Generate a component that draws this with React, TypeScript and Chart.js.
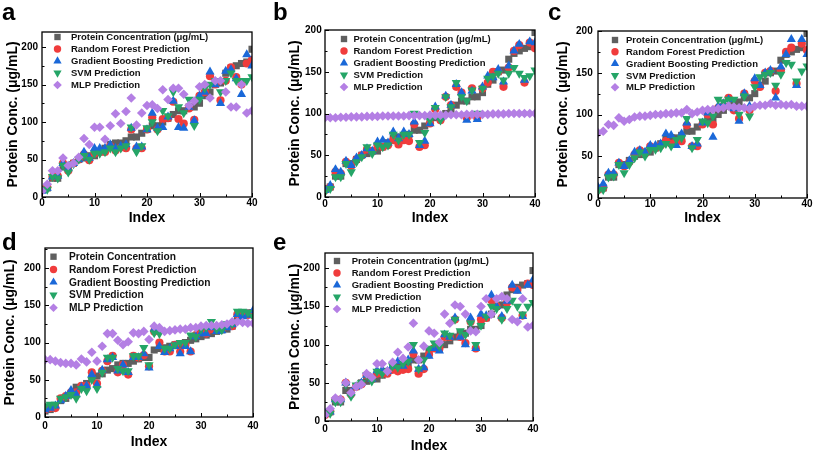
import React, { useEffect, useRef } from "react";
import { Chart, registerables } from "chart.js";
import { drawPoint } from "chart.js/helpers";
Chart.register(...registerables);

const FONT = "'Liberation Sans', Arial, Helvetica, sans-serif";

// ---------- data ----------
const indexValues = [0,1,2,3,4,5,6,7,8,9,10,11,12,13,14,15,16,17,18,19,20,21,22,23,24,25,26,27,28,29,30,31,32,33,34,35,36,37,38,39,40];

const proteinABCE = [10,12,25,25,40,40,45,50,52,55,55,60,65,70,72,72,75,80,80,85,90,95,95,100,105,110,115,115,120,120,125,135,140,150,152,165,172,175,178,180,197];
const proteinD = [8,10,15,22,25,30,40,40,45,52,55,58,63,65,70,72,72,75,78,80,80,90,92,93,95,97,97,100,103,105,108,110,112,115,117,118,122,135,137,140,140];

const rfA = [10,13,27,28,45,35,45,50,57,49,58,60,60,68,62,66,65,90,65,65,90,106,90,104,105,127,104,98,118,103,135,140,161,150,129,155,173,160,150,178,183];
const gbA = [8,12,27,28,45,38,45,50,60,52,65,65,65,70,65,68,70,92,67,67,90,112,92,93,107,128,93,92,120,102,135,140,167,150,125,168,170,158,137,190,175];
const svmA = [10,10,27,25,42,33,44,50,55,50,58,58,60,65,60,65,68,93,60,68,92,100,88,115,108,140,120,112,130,95,130,145,150,155,140,155,165,155,155,155,160];
const mlpA = [8,17,35,35,52,42,45,53,78,70,93,93,77,95,111,98,114,132,96,112,122,123,118,143,130,145,145,137,122,128,147,150,132,155,155,140,120,120,150,112,115];

const rfB = [8,12,30,28,42,37,45,50,57,55,62,60,62,68,63,68,67,87,60,62,88,105,92,120,110,132,125,95,130,95,130,137,150,150,132,155,175,182,137,185,178];
const gbB = [8,14,33,30,43,38,47,50,58,55,66,68,65,78,70,78,75,90,62,67,88,108,95,121,110,135,125,92,127,93,132,145,143,153,138,157,175,183,140,186,185];
const svmB = [6,10,24,24,40,30,42,48,60,52,62,60,62,75,68,75,75,100,65,77,92,107,92,120,108,137,120,115,128,100,130,142,145,148,140,148,155,148,143,145,152];
const mlpB = [95,95,95,95.5,95.5,96,96,96,96.5,96.5,96.5,97,97,97,97,97,97.5,97.5,97.5,97.5,98,98,98,98,98.5,98.5,98.5,99,99,99,99,99,99.5,99.5,99.5,100,100,100,100,100,100];

const rfC = [10,12,28,28,42,38,43,52,57,53,62,60,63,68,65,68,68,87,62,62,88,100,88,108,110,120,105,95,125,105,140,133,150,152,128,153,175,180,137,185,177];
const gbC = [13,17,30,30,42,38,45,55,57,55,63,63,65,77,75,63,77,90,62,65,90,102,73,110,113,118,107,92,125,110,143,135,150,153,120,157,172,190,135,190,172];
const svmC = [8,10,25,26,40,30,40,48,55,50,58,58,60,65,62,70,72,95,60,70,92,90,98,118,115,118,118,100,122,98,133,145,148,150,135,148,162,160,140,152,158];
const mlpC = [78,80,88,87,96,92,94,97,98,98,99,100,100,101,101,102,102,106,101,103,105,106,106,107,108,110,109,108,108,107,110,111,111,113,111,112,111,112,110,110,110];

const rfD = [10,12,12,25,28,33,33,42,42,60,45,62,75,82,60,70,57,82,80,83,68,115,100,88,88,97,88,97,88,110,115,112,118,117,118,122,122,138,137,137,137];
const gbD = [10,12,15,22,28,36,30,40,42,57,43,63,77,80,62,70,60,80,80,85,66,118,95,87,92,95,85,95,88,108,112,112,120,115,116,120,124,138,135,137,143];
const svmD = [15,17,17,25,27,30,25,38,35,50,38,60,80,80,65,62,62,82,82,93,70,113,112,92,92,97,100,100,110,108,118,120,128,118,117,125,125,142,142,140,135];
const mlpD = [77,77,75,73,72,72,70,78,74,87,75,95,112,112,103,97,101,113,112,115,104,122,120,115,116,117,118,118,120,120,122,123,123,123,124,125,128,128,127,126,126];

const rfE = [8,12,28,28,50,35,45,48,60,55,62,62,62,67,65,67,68,88,62,68,87,95,95,110,110,133,110,102,130,95,133,135,158,150,135,155,175,172,138,180,178];
const gbE = [10,12,28,28,50,37,45,50,60,55,66,67,65,72,78,72,80,92,68,70,85,95,92,113,110,135,110,100,135,95,140,138,165,150,137,157,178,170,137,178,185];
const svmE = [8,10,25,25,48,32,47,50,60,52,65,62,65,72,70,75,78,100,68,80,95,102,98,115,112,133,118,113,128,100,125,137,150,147,133,147,158,150,140,150,155];
const mlpE = [8,16,30,28,50,37,45,48,62,57,75,75,65,77,90,82,97,128,80,98,118,115,103,140,128,152,150,140,118,117,150,160,140,160,163,160,133,130,160,123,125];

const seriesLabels = ["Protein Concentration (μg/mL)", "Random Forest Prediction", "Gradient Boosting Prediction", "SVM Prediction", "MLP Prediction"];
const seriesLabelsD = ["Protein Concentration", "Random Forest Prediction", "Gradient Boosting Prediction", "SVM Prediction", "MLP Prediction"];
const xTitle = "Index";
const yTitle = "Protein Conc. (μg/mL)";

// ---------- styles ----------
const seriesStyles = [
  { color: "#5f5f5f", pointStyle: "rect", radius: 5, rotation: 0 },
  { color: "#f03c3c", pointStyle: "circle", radius: 4.1, rotation: 0 },
  { color: "#1a68d8", pointStyle: "triangle", radius: 5.3, rotation: 0 },
  { color: "#25a567", pointStyle: "triangle", radius: 5.3, rotation: 180 },
  { color: "#b47fe4", pointStyle: "rectRot", radius: 4.8, rotation: 0 },
];

type LegendCfg = { mx: number; tx: number; y0: number; rowH: number; size: number };
type PanelCfg = {
  letter: string; letterX: number; letterY: number;
  left: number; top: number; w: number; h: number;
  padTop: number; padRight: number; yw: number; xh: number;
  yTitlePad: number; xTitlePad: number; xTickPad: number; yTickPad: number;
  ymax: number; series: number[][]; labels: string[]; legend: LegendCfg;
};

const framePlugin = {
  id: "frameTicks",
  afterDatasetsDraw(chart: any) {
    const { ctx, chartArea, scales } = chart;
    const { left, right, top, bottom } = chartArea;
    const x = scales.x, y = scales.y;
    ctx.save();
    ctx.strokeStyle = "#000";
    ctx.lineWidth = 1;
    const xt = x.ticks.map((t: any) => t.value);
    for (let i = 0; i < xt.length; i++) {
      const px = Math.round(x.getPixelForValue(xt[i])) + 0.5;
      ctx.beginPath(); ctx.moveTo(px, bottom); ctx.lineTo(px, bottom - 4); ctx.stroke();
      if (i < xt.length - 1) {
        const pm = Math.round(x.getPixelForValue((xt[i] + xt[i + 1]) / 2)) + 0.5;
        ctx.beginPath(); ctx.moveTo(pm, bottom); ctx.lineTo(pm, bottom - 2.5); ctx.stroke();
      }
    }
    const yt = y.ticks.map((t: any) => t.value);
    for (let i = 0; i < yt.length; i++) {
      const py = Math.round(y.getPixelForValue(yt[i])) + 0.5;
      ctx.beginPath(); ctx.moveTo(left, py); ctx.lineTo(left + 4, py); ctx.stroke();
      const mid = yt[i] + 25;
      if (mid < y.max) {
        const pm = Math.round(y.getPixelForValue(mid)) + 0.5;
        ctx.beginPath(); ctx.moveTo(left, pm); ctx.lineTo(left + 2.5, pm); ctx.stroke();
      }
    }
    ctx.lineWidth = 1.3;
    ctx.strokeRect(left, top, right - left, bottom - top);
    ctx.restore();
  },
  afterDraw(chart: any, _args: any, opts: any) {
    const lg: LegendCfg = opts.legend;
    const labels: string[] = opts.labels;
    if (!lg) return;
    const { ctx, chartArea } = chart;
    ctx.save();
    ctx.font = `bold ${lg.size}px ${FONT}`;
    ctx.textBaseline = "middle";
    ctx.textAlign = "left";
    labels.forEach((lab, i) => {
      const st = seriesStyles[i];
      const cy = chartArea.top + lg.y0 + i * lg.rowH;
      const cx = chartArea.left + lg.mx;
      ctx.fillStyle = st.color;
      drawPoint(ctx, { pointStyle: st.pointStyle, radius: st.radius * 0.9, rotation: st.rotation, borderWidth: 0 } as any, cx, cy);
      ctx.fillStyle = "#111";
      ctx.fillText(lab, chartArea.left + lg.tx, cy + 0.5);
    });
    ctx.restore();
  },
};

const panels: PanelCfg[] = [
  { letter: "a", letterX: 2, letterY: 0, left: 0, top: 0, w: 265, h: 228, padTop: 32, padRight: 13, yw: 42, xh: 31,
    yTitlePad: 4.6, xTitlePad: 1.6, xTickPad: 0, yTickPad: 4, ymax: 220,
    series: [proteinABCE, rfA, gbA, svmA, mlpA], labels: seriesLabels,
    legend: { mx: 15.5, tx: 29, y0: 5, rowH: 12, size: 9.5 } },
  { letter: "b", letterX: 273, letterY: 0, left: 280, top: 0, w: 268, h: 228, padTop: 30, padRight: 13, yw: 45, xh: 31,
    yTitlePad: 6.6, xTitlePad: 1.6, xTickPad: 1, yTickPad: 3.3, ymax: 200,
    series: [proteinABCE, rfB, gbB, svmB, mlpB], labels: seriesLabels,
    legend: { mx: 19, tx: 28.5, y0: 9, rowH: 12, size: 9.5 } },
  { letter: "c", letterX: 548, letterY: 0, left: 550, top: 0, w: 263, h: 228, padTop: 31, padRight: 6, yw: 48, xh: 30,
    yTitlePad: 4.6, xTitlePad: 1.6, xTickPad: 0, yTickPad: 5.3, ymax: 200,
    series: [proteinABCE, rfC, gbC, svmC, mlpC], labels: seriesLabels,
    legend: { mx: 17, tx: 28, y0: 9, rowH: 11.8, size: 9.5 } },
  { letter: "d", letterX: 2, letterY: 230, left: 0, top: 228, w: 265, h: 227, padTop: 20, padRight: 12, yw: 45, xh: 38,
    yTitlePad: 1.6, xTitlePad: 4.9, xTickPad: 3.7, yTickPad: 4.3, ymax: 227,
    series: [proteinD, rfD, gbD, svmD, mlpD], labels: seriesLabelsD,
    legend: { mx: 8.5, tx: 24, y0: 8.7, rowH: 12.75, size: 10.2 } },
  { letter: "e", letterX: 273, letterY: 230, left: 280, top: 228, w: 268, h: 227, padTop: 25, padRight: 15, yw: 45, xh: 34,
    yTitlePad: 6.6, xTitlePad: 0, xTickPad: 2, yTickPad: 5, ymax: 220,
    series: [proteinABCE, rfE, gbE, svmE, mlpE], labels: seriesLabels,
    legend: { mx: 12, tx: 26.7, y0: 8, rowH: 12, size: 9.5 } },
];

function Panel({ cfg }: { cfg: PanelCfg }) {
  const ref = useRef<HTMLCanvasElement | null>(null);
  useEffect(() => {
    if (!ref.current) return;
    const tickFont = { family: FONT, size: 10, weight: "bold" as const };
    const titleFont = { family: FONT, size: 14, weight: "bold" as const };
    const datasets = cfg.series.map((arr, si) => {
      const st = seriesStyles[si];
      return {
        label: cfg.labels[si],
        data: indexValues.map((xv, k) => ({ x: xv, y: arr[k] })),
        backgroundColor: st.color,
        borderColor: st.color,
        borderWidth: 0,
        pointRadius: st.radius,
        pointHoverRadius: st.radius,
        pointStyle: st.pointStyle,
        rotation: st.rotation,
        showLine: false,
        clip: 0,
        order: 5 - si,
      };
    });
    const chart = new Chart(ref.current, {
      type: "scatter",
      data: { datasets } as any,
      plugins: [framePlugin],
      options: {
        animation: false,
        responsive: false,
        events: [],
        layout: { padding: { top: cfg.padTop, right: cfg.padRight, left: 0, bottom: 0 } },
        plugins: {
          legend: { display: false },
          tooltip: { enabled: false },
          frameTicks: { legend: cfg.legend, labels: cfg.labels },
        } as any,
        scales: {
          x: {
            type: "linear", min: 0, max: 40,
            afterFit: (s: any) => { s.height = cfg.xh; },
            grid: { display: false, drawTicks: false, tickLength: 0 },
            border: { display: false },
            ticks: { stepSize: 10, font: tickFont, color: "#000", padding: cfg.xTickPad, maxRotation: 0, includeBounds: false },
            title: { display: true, text: xTitle, font: titleFont, color: "#000", padding: { top: 0, bottom: cfg.xTitlePad } },
          },
          y: {
            type: "linear", min: 0, max: cfg.ymax,
            afterFit: (s: any) => { s.width = cfg.yw; },
            grid: { display: false, drawTicks: false, tickLength: 0 },
            border: { display: false },
            ticks: { stepSize: 50, font: tickFont, color: "#000", padding: cfg.yTickPad, includeBounds: false },
            title: { display: true, text: yTitle, font: titleFont, color: "#000", padding: { top: cfg.yTitlePad, bottom: 0 } },
          },
        },
      } as any,
    });
    return () => chart.destroy();
  }, [cfg]);
  return (
    <>
      <canvas ref={ref} width={cfg.w} height={cfg.h}
        style={{ position: "absolute", left: cfg.left, top: cfg.top, width: cfg.w, height: cfg.h }} />
      <div style={{ position: "absolute", left: cfg.letterX, top: cfg.letterY, font: `bold 24px ${FONT}`, lineHeight: "24px", color: "#000" }}>
        {cfg.letter}
      </div>
    </>
  );
}

export default function App() {
  return (
    <div style={{ position: "absolute", left: 0, top: 0, width: 813, height: 455, background: "#fff", overflow: "hidden" }}>
      {panels.map((p) => <Panel key={p.letter} cfg={p} />)}
    </div>
  );
}
